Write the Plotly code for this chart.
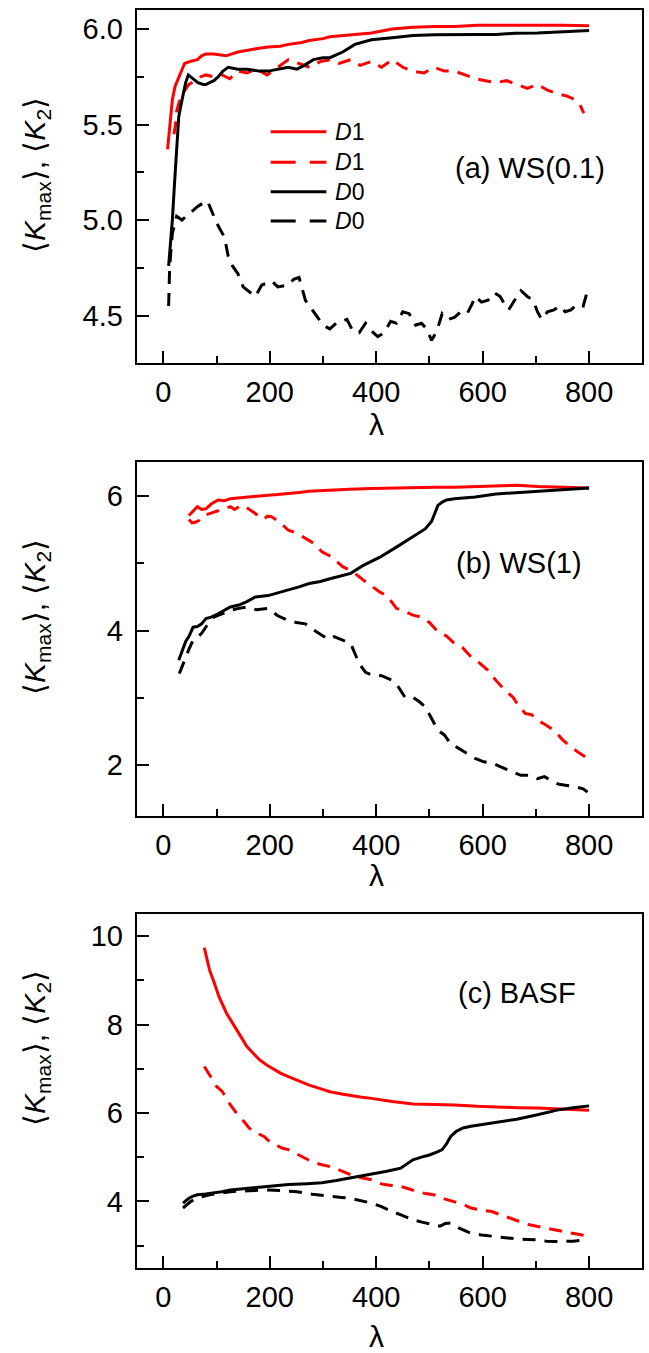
import plotly.graph_objects as go

W, H = 649, 1353

# ---------------- data ----------------
# Panel (a) WS(0.1)
a_d1_solid_x = [8, 10, 13, 17, 22, 28, 33, 40, 50, 64, 72, 80, 95, 118, 140, 157, 180, 197, 220, 235,
                260, 274, 300, 313, 350, 391, 430, 469, 510, 547, 590, 625, 670, 703, 750, 800]
a_d1_solid_y = [5.37, 5.42, 5.52, 5.63, 5.70, 5.74, 5.77, 5.82, 5.83, 5.84, 5.86, 5.87, 5.87, 5.86, 5.88, 5.89,
                5.90, 5.906, 5.91, 5.92, 5.93, 5.94, 5.95, 5.96, 5.97, 5.98, 6.00, 6.01, 6.014, 6.014, 6.02,
                6.02, 6.022, 6.023, 6.02, 6.017]
a_d1_dash_x = [20, 23, 25, 30, 38, 48, 60, 70, 80, 95, 110, 125, 140, 157, 175, 195, 215, 235, 255, 275,
               295, 313, 330, 352, 370, 391, 410, 430, 450, 469, 490, 508, 528, 547, 567, 586, 605, 625, 645,
               664, 684, 703, 722, 742, 758, 774, 782, 790]
a_d1_dash_y = [5.45, 5.50, 5.57, 5.62, 5.67, 5.71, 5.73, 5.75, 5.76, 5.75, 5.76, 5.74, 5.78, 5.77, 5.79, 5.76,
               5.80, 5.84, 5.82, 5.80, 5.83, 5.84, 5.82, 5.84, 5.81, 5.83, 5.80, 5.84, 5.80, 5.78, 5.77, 5.80,
               5.78, 5.78, 5.76, 5.74, 5.73, 5.72, 5.73, 5.71, 5.69, 5.71, 5.68, 5.66, 5.65, 5.63, 5.61, 5.56]
a_d0_solid_x = [10, 13, 17, 21, 25, 29, 33, 37, 42, 47, 55, 65, 75, 80, 87, 95, 103, 112, 122, 140, 157, 180,
                197, 220, 235, 251, 265, 282, 300, 313, 337, 360, 391, 430, 469, 510, 547, 590, 625, 660, 703,
                750, 800]
a_d0_solid_y = [4.76, 4.85, 5.00, 5.19, 5.40, 5.54, 5.60, 5.66, 5.72, 5.76, 5.74, 5.72, 5.71, 5.71, 5.72, 5.73,
                5.75, 5.78, 5.80, 5.79, 5.79, 5.78, 5.78, 5.79, 5.80, 5.79, 5.81, 5.84, 5.85, 5.85, 5.88, 5.92,
                5.944, 5.955, 5.967, 5.97, 5.972, 5.972, 5.972, 5.978, 5.98, 5.985, 5.993]
a_d0_dash_x = [10, 12, 17, 25, 35, 48, 56, 64, 75, 83, 95, 103, 115, 122, 130, 140, 150, 160, 173, 185, 204,
               215, 235, 245, 255, 267, 278, 290, 300, 313, 325, 345, 356, 368, 380, 391, 403, 415, 427, 438,
               450, 462, 474, 485, 495, 504, 514, 524, 535, 547, 559, 571, 580, 586, 598, 610, 622, 633, 641,
               649, 660, 672, 684, 695, 703, 711, 722, 734, 745, 755, 766, 778, 789, 797]
a_d0_dash_y = [4.55, 4.76, 4.93, 5.02, 5.00, 5.03, 5.05, 5.07, 5.09, 5.10, 5.02, 4.97, 4.91, 4.81, 4.76, 4.72,
               4.65, 4.63, 4.60, 4.66, 4.68, 4.65, 4.66, 4.69, 4.70, 4.58, 4.54, 4.49, 4.45, 4.43, 4.46, 4.48,
               4.42, 4.41, 4.46, 4.42, 4.39, 4.41, 4.47, 4.46, 4.52, 4.51, 4.45, 4.46, 4.43, 4.37, 4.42, 4.51,
               4.48, 4.49, 4.52, 4.51, 4.56, 4.60, 4.57, 4.58, 4.62, 4.60, 4.56, 4.53, 4.58, 4.63, 4.60, 4.58,
               4.52, 4.48, 4.52, 4.53, 4.55, 4.52, 4.53, 4.56, 4.55, 4.63]

# Panel (b) WS(1)
b_d1_solid_x = [48, 56, 64, 72, 80, 90, 103, 115, 126, 140, 157, 175, 197, 215, 235, 255, 274, 295, 313, 350,
                391, 430, 469, 510, 547, 590, 625, 664, 703, 750, 800]
b_d1_solid_y = [5.71, 5.78, 5.84, 5.80, 5.81, 5.88, 5.94, 5.93, 5.96, 5.97, 5.985, 6.00, 6.01, 6.02, 6.03, 6.05,
                6.07, 6.08, 6.09, 6.10, 6.11, 6.12, 6.13, 6.13, 6.13, 6.14, 6.14, 6.16, 6.14, 6.13, 6.12]
b_d1_dash_x = [48, 54, 60, 66, 72, 80, 95, 110, 126, 134, 142, 150, 158, 173, 181, 189, 196, 204, 220, 235,
               250, 267, 282, 298, 315, 337, 355, 376, 392, 407, 420, 438, 455, 469, 485, 500, 516, 532, 547,
               562, 578, 594, 610, 625, 641, 657, 668, 680, 692, 703, 718, 734, 750, 766, 782, 797]
b_d1_dash_y = [5.65, 5.60, 5.61, 5.63, 5.69, 5.72, 5.76, 5.80, 5.84, 5.80, 5.84, 5.86, 5.82, 5.74, 5.67, 5.66,
               5.70, 5.69, 5.60, 5.49, 5.45, 5.37, 5.30, 5.17, 5.10, 4.95, 4.88, 4.75, 4.66, 4.57, 4.52, 4.33,
               4.28, 4.23, 4.20, 4.12, 3.98, 3.92, 3.81, 3.75, 3.61, 3.52, 3.41, 3.26, 3.12, 3.01, 2.88, 2.77,
               2.75, 2.67, 2.60, 2.52, 2.38, 2.27, 2.18, 2.10]
b_d0_solid_x = [29, 33, 37, 42, 48, 56, 64, 72, 80, 90, 103, 115, 126, 142, 157, 173, 197, 215, 235, 255, 274,
                295, 313, 335, 352, 376, 407, 438, 469, 492, 504, 510, 516, 524, 532, 547, 570, 586, 625, 664,
                703, 750, 800]
b_d0_solid_y = [3.56, 3.65, 3.76, 3.84, 3.91, 4.05, 4.06, 4.10, 4.18, 4.20, 4.25, 4.30, 4.35, 4.38, 4.43, 4.50,
                4.52, 4.56, 4.60, 4.65, 4.70, 4.73, 4.77, 4.81, 4.85, 4.97, 5.09, 5.24, 5.39, 5.51, 5.62, 5.75,
                5.86, 5.91, 5.94, 5.96, 5.975, 5.985, 6.03, 6.05, 6.07, 6.09, 6.12]
b_d0_dash_x = [30, 35, 40, 48, 56, 64, 72, 84, 95, 110, 126, 142, 157, 175, 197, 215, 235, 250, 267, 282, 298,
               310, 321, 335, 352, 360, 368, 380, 391, 410, 430, 442, 454, 469, 480, 492, 504, 516, 528, 540,
               555, 571, 586, 602, 618, 633, 650, 672, 688, 703, 716, 727, 742, 758, 774, 789, 797]
b_d0_dash_y = [3.36, 3.45, 3.56, 3.72, 3.86, 3.90, 3.96, 4.10, 4.20, 4.25, 4.30, 4.33, 4.35, 4.31, 4.33, 4.22,
               4.15, 4.12, 4.10, 4.01, 3.93, 3.87, 3.91, 3.86, 3.81, 3.66, 3.51, 3.38, 3.34, 3.33, 3.26, 3.16,
               3.01, 3.01, 2.95, 2.87, 2.70, 2.52, 2.45, 2.32, 2.25, 2.17, 2.10, 2.05, 2.03, 1.98, 1.92, 1.85,
               1.85, 1.80, 1.83, 1.78, 1.72, 1.70, 1.68, 1.65, 1.60]

# Panel (c) BASF
c_d1_solid_x = [77, 82, 87, 95, 105, 119, 130, 142, 157, 170, 181, 195, 204, 220, 235, 255, 274, 295, 313, 335,
                352, 370, 391, 410, 430, 450, 469, 510, 547, 590, 625, 664, 703, 750, 800]
c_d1_solid_y = [9.74, 9.45, 9.23, 8.97, 8.62, 8.25, 8.02, 7.80, 7.50, 7.34, 7.20, 7.08, 7.01, 6.90, 6.82, 6.72,
                6.63, 6.55, 6.48, 6.43, 6.39, 6.36, 6.33, 6.29, 6.26, 6.23, 6.20, 6.19, 6.18, 6.15, 6.13, 6.12,
                6.11, 6.09, 6.06]
c_d1_dash_x = [77, 84, 91, 100, 111, 125, 142, 152, 161, 175, 189, 200, 212, 224, 235, 250, 267, 282, 298, 315,
               337, 350, 360, 375, 391, 403, 415, 430, 446, 462, 477, 492, 508, 530, 555, 566, 578, 598, 617,
               633, 649, 668, 688, 703, 718, 742, 766, 785, 800]
c_d1_dash_y = [7.05, 6.90, 6.78, 6.60, 6.48, 6.20, 5.92, 5.80, 5.66, 5.55, 5.47, 5.35, 5.28, 5.20, 5.17, 5.08,
               4.98, 4.88, 4.83, 4.78, 4.68, 4.62, 4.56, 4.53, 4.49, 4.42, 4.38, 4.36, 4.34, 4.28, 4.22, 4.18,
               4.15, 4.05, 3.96, 3.92, 3.85, 3.80, 3.77, 3.70, 3.62, 3.55, 3.47, 3.44, 3.40, 3.34, 3.28, 3.24,
               3.21]
c_d0_solid_x = [37, 42, 48, 56, 64, 80, 95, 110, 126, 160, 197, 235, 270, 298, 325, 352, 391, 420, 446, 458,
                469, 485, 500, 515, 524, 532, 540, 550, 563, 578, 594, 625, 664, 703, 742, 770, 800]
c_d0_solid_y = [3.96, 4.02, 4.07, 4.12, 4.15, 4.17, 4.19, 4.22, 4.26, 4.30, 4.34, 4.38, 4.40, 4.42, 4.47, 4.53,
                4.60, 4.68, 4.75, 4.85, 4.94, 5.00, 5.05, 5.12, 5.17, 5.30, 5.47, 5.58, 5.66, 5.70, 5.73, 5.78,
                5.86, 5.96, 6.07, 6.12, 6.16]
c_d0_dash_x = [37, 45, 52, 65, 87, 105, 126, 160, 197, 225, 251, 280, 313, 335, 352, 370, 391, 410, 430, 450,
               469, 490, 508, 520, 530, 540, 555, 578, 598, 617, 640, 664, 685, 703, 720, 742, 770, 797]
c_d0_dash_y = [3.85, 3.92, 4.00, 4.08, 4.15, 4.18, 4.22, 4.24, 4.26, 4.24, 4.22, 4.16, 4.11, 4.09, 4.07, 4.02,
               3.96, 3.88, 3.77, 3.68, 3.58, 3.52, 3.47, 3.44, 3.50, 3.51, 3.40, 3.28, 3.24, 3.21, 3.18, 3.15,
               3.14, 3.13, 3.10, 3.09, 3.10, 3.13]

panel_labels = ["(a) WS(0.1)", "(b) WS(1)", "(c) BASF"]
legend_labels = ["<i>D</i>1", "<i>D</i>1", "<i>D</i>0", "<i>D</i>0"]
x_ticks = [0, 200, 400, 600, 800]
x_minor = [100, 300, 500, 700]
y_ticks = [[4.5, 5.0, 5.5, 6.0], [2, 4, 6], [4, 6, 8, 10]]
y_minor = [[4.75, 5.25, 5.75], [3, 5], [3, 5, 7, 9]]
y_ranges = [[4.25, 6.1], [1.25, 6.5], [2.5, 10.5]]
y_fmt = [".1f", "d", "d"]

RED = "#ff0000"
BLACK = "#000000"
DASH = "13px,9px"
FONT = "Liberation Sans, Arial, sans-serif"

panels = [
    [(a_d1_solid_x, a_d1_solid_y, RED, "solid"), (a_d1_dash_x, a_d1_dash_y, RED, DASH),
     (a_d0_solid_x, a_d0_solid_y, BLACK, "solid"), (a_d0_dash_x, a_d0_dash_y, BLACK, DASH)],
    [(b_d1_solid_x, b_d1_solid_y, RED, "solid"), (b_d1_dash_x, b_d1_dash_y, RED, DASH),
     (b_d0_solid_x, b_d0_solid_y, BLACK, "solid"), (b_d0_dash_x, b_d0_dash_y, BLACK, DASH)],
    [(c_d1_solid_x, c_d1_solid_y, RED, "solid"), (c_d1_dash_x, c_d1_dash_y, RED, DASH),
     (c_d0_solid_x, c_d0_solid_y, BLACK, "solid"), (c_d0_dash_x, c_d0_dash_y, BLACK, DASH)],
]

# pixel geometry (top, bottom) of each plot frame
frames_px = [(10, 363.3), (462.3, 815.7), (914, 1267.7)]
x_px = (136.7, 642.3)

def py(p):
    return 1 - p / H

def px(p):
    return p / W

fig = go.Figure()
layout = dict(width=W, height=H, margin=dict(l=0, r=0, t=0, b=0), paper_bgcolor="white",
              plot_bgcolor="white", showlegend=False, font=dict(family=FONT, color="black"))

for i, traces in enumerate(panels):
    xa = "x" if i == 0 else f"x{i+1}"
    ya = "y" if i == 0 else f"y{i+1}"
    for (xs, ys, col, dash) in traces:
        fig.add_trace(go.Scatter(x=xs, y=ys, mode="lines", xaxis=xa, yaxis=ya,
                                 line=dict(color=col, width=3, dash=dash)))
    common = dict(showline=True, linecolor="black", linewidth=2, mirror=True, ticks="inside",
                  ticklen=12, tickwidth=2, tickcolor="black", showgrid=False, zeroline=False,
                  tickfont=dict(family=FONT, size=29, color="black"))
    top, bot = frames_px[i]
    layout["xaxis" if i == 0 else f"xaxis{i+1}"] = dict(
        **common, domain=[px(x_px[0]), px(x_px[1])], range=[-50, 900], anchor=ya,
        tickmode="array", tickvals=x_ticks, ticklabelstandoff=2,
        minor=dict(tickmode="array", tickvals=x_minor, ticks="inside", ticklen=7, tickwidth=2,
                   tickcolor="black", showgrid=False))
    layout["yaxis" if i == 0 else f"yaxis{i+1}"] = dict(
        **common, domain=[py(bot), py(top)], range=y_ranges[i], anchor=xa,
        tickmode="array", tickvals=y_ticks[i], tickformat=y_fmt[i], ticklabelstandoff=6,
        minor=dict(tickmode="array", tickvals=y_minor[i], ticks="inside", ticklen=7, tickwidth=2,
                   tickcolor="black", showgrid=False))

fig.update_layout(**layout)

annotations = []
ytitle = "⟨<i>K</i><sub>max</sub>⟩, ⟨<i>K</i><sub>2</sub>⟩"
ytitle_centers = [175, 617, 1048]
lam_y = [425, 875, 1336.7]
label_pos = [(529.5, 168), (518.5, 563), (516.8, 993)]
for i in range(3):
    annotations.append(dict(text=ytitle, xref="paper", yref="paper", x=px(36), y=py(ytitle_centers[i]),
                            textangle=-90, showarrow=False, xanchor="center", yanchor="middle",
                            font=dict(family=FONT, size=30, color="black")))
    annotations.append(dict(text="λ", xref="paper", yref="paper", x=px(376.6), y=py(lam_y[i]),
                            showarrow=False, xanchor="center", yanchor="middle",
                            font=dict(family=FONT, size=30, color="black")))
    annotations.append(dict(text=panel_labels[i], xref="paper", yref="paper", x=px(label_pos[i][0]),
                            y=py(label_pos[i][1]), showarrow=False, xanchor="center", yanchor="middle",
                            font=dict(family=FONT, size=29, color="black")))

# legend (panel a)
leg_rows = [131.7, 162.3, 191.7, 221]
leg_styles = [(RED, "solid"), (RED, "25px,14px"), (BLACK, "solid"), (BLACK, "25px,14px")]
shapes = []
for r, (col, dash), lab in zip(leg_rows, leg_styles, legend_labels):
    shapes.append(dict(type="line", xref="paper", yref="paper", x0=px(270.7), x1=px(326.4),
                       y0=py(r), y1=py(r), line=dict(color=col, width=3, dash=dash)))
    annotations.append(dict(text=lab, xref="paper", yref="paper", x=px(333), y=py(r),
                            showarrow=False, xanchor="left", yanchor="middle",
                            font=dict(family=FONT, size=23, color="black")))

fig.update_layout(annotations=annotations, shapes=shapes)
fig.write_html("out.html")
